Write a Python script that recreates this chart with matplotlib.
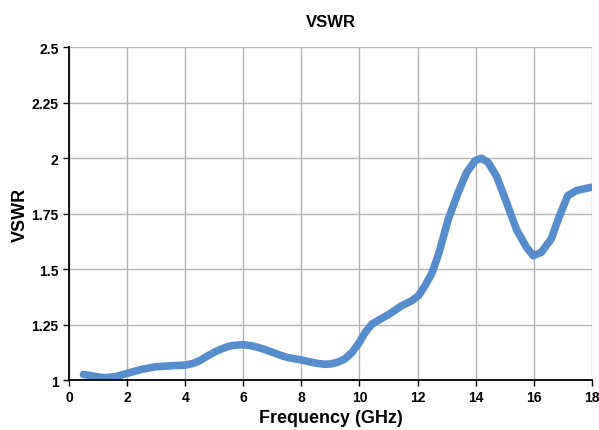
import matplotlib.pyplot as plt

plt.rcParams['font.family'] = ['Liberation Sans', 'DejaVu Sans']

# Data
freq = [0.5, 0.8, 1.2, 1.6, 2.0, 2.5, 3.0, 3.5, 4.0, 4.25, 4.5, 4.75, 5.0,
        5.25, 5.5, 5.75, 6.0, 6.25, 6.5, 6.75, 7.0, 7.25, 7.5, 8.0, 8.5, 8.8,
        9.0, 9.25, 9.5, 9.75, 10.0, 10.2, 10.43, 10.78, 11.12, 11.46, 11.8,
        12.03, 12.26, 12.49, 12.72, 13.06, 13.4, 13.69, 13.98, 14.2, 14.43,
        14.72, 15.05, 15.4, 15.75, 15.98, 16.26, 16.6, 16.89, 17.17, 17.46,
        17.97]
vswr = [1.025, 1.018, 1.010, 1.015, 1.030, 1.048, 1.060, 1.064, 1.067, 1.074,
        1.087, 1.107, 1.125, 1.140, 1.152, 1.157, 1.159, 1.155, 1.147, 1.137,
        1.125, 1.113, 1.102, 1.090, 1.076, 1.071, 1.072, 1.080, 1.095, 1.125,
        1.170, 1.215, 1.252, 1.278, 1.305, 1.335, 1.357, 1.380, 1.425, 1.480,
        1.565, 1.725, 1.845, 1.935, 1.988, 1.999, 1.980, 1.918, 1.805, 1.680,
        1.598, 1.560, 1.575, 1.635, 1.740, 1.830, 1.853, 1.868]

xticks = list(range(0, 19, 2))
yticks = [1, 1.25, 1.5, 1.75, 2, 2.25, 2.5]
ytick_labels = ['1', '1.25', '1.5', '1.75', '2', '2.25', '2.5']

fig = plt.figure(figsize=(5.99, 4.31), dpi=100)
ax = fig.add_axes([0.1152, 0.116, 0.8728, 0.7726])

ax.plot(freq, vswr, color='#578dcc', linewidth=5.5, solid_joinstyle='round',
        solid_capstyle='round', zorder=3)

ax.set_xlim(0, 18)
ax.set_ylim(1, 2.5)
ax.set_xticks(xticks)
ax.set_yticks(yticks)
ax.set_yticklabels(ytick_labels)
ax.grid(True, color='#b3b3b3', linewidth=1)
ax.set_axisbelow(True)

for s in ['top', 'right']:
    ax.spines[s].set_visible(False)
for s in ['left', 'bottom']:
    ax.spines[s].set_linewidth(1.3)
    ax.spines[s].set_zorder(4)

ax.tick_params(axis='both', labelsize=10, length=4, width=1)
for lbl in ax.get_xticklabels() + ax.get_yticklabels():
    lbl.set_fontweight('bold')

ax.set_xlabel('Frequency (GHz)', fontsize=13, fontweight='bold', labelpad=3)
ax.set_ylabel('VSWR', fontsize=13, fontweight='bold', labelpad=2)
ax.set_title('VSWR', fontsize=12, fontweight='bold', pad=15)

plt.savefig('out.png', dpi=100)
